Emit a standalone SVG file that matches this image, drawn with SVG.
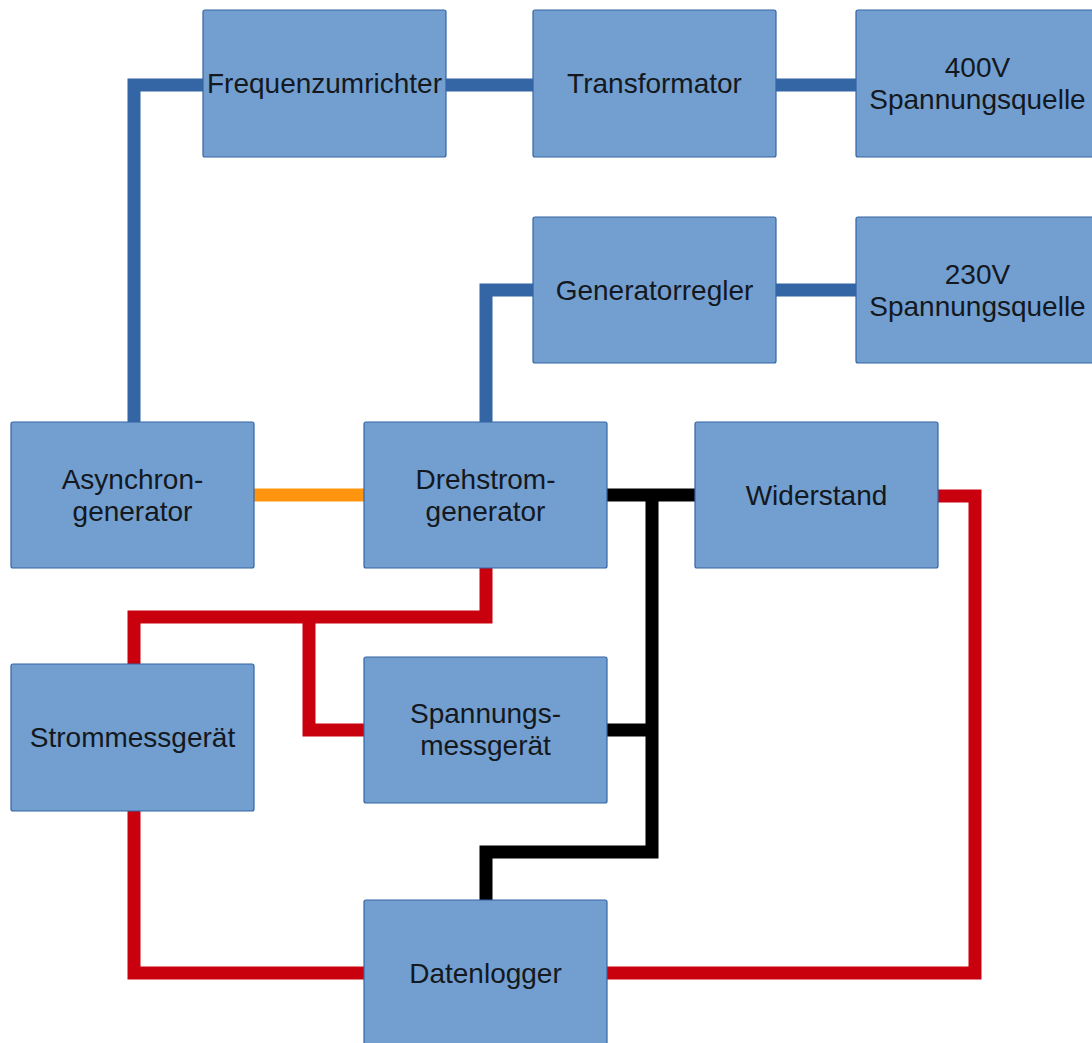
<svg xmlns="http://www.w3.org/2000/svg" width="1092" height="1043" viewBox="0 0 1092 1043">
<style>
.box{fill:#729fcf;stroke:#3465a4;stroke-width:1.2}
.lbl{font-family:"Liberation Sans",Arial,sans-serif;font-size:28px;fill:#141820;text-anchor:middle}
.c{fill:none;stroke-width:13;stroke-linejoin:miter;stroke-linecap:butt}
.blue{stroke:#3465a4}
.orange{stroke:#ff950e}
.red{stroke:#c9000e}
.black{stroke:#000}
</style>
<rect width="1092" height="1043" fill="#fff"/>
<g id="connectors">
<path class="c blue" d="M134 422 V85 H203"/>
<path class="c blue" d="M446 85 H533"/>
<path class="c blue" d="M776 85 H856"/>
<path class="c blue" d="M486 422 V290 H533"/>
<path class="c blue" d="M776 290 H856"/>
<path class="c orange" d="M254 495 H364"/>
<path class="c black" d="M607 495 H695"/>
<path class="c black" d="M652 495 V852 H486 V900"/>
<path class="c black" d="M607 730 H652"/>
<path class="c red" d="M486 568 V617 H134 V664"/>
<path class="c red" d="M309 617 V730 H364"/>
<path class="c red" d="M134 811 V973 H364"/>
<path class="c red" d="M607 973 H975 V496 H938"/>
</g>
<g id="frequenzumrichter"><rect class="box" x="203" y="10" width="243" height="147" rx="2"/><text class="lbl" x="324.5" y="93">Frequenzumrichter</text></g>
<g id="transformator"><rect class="box" x="533" y="10" width="243" height="147" rx="2"/><text class="lbl" x="654.5" y="93">Transformator</text></g>
<g id="spannungsquelle400"><rect class="box" x="856" y="10" width="243" height="147" rx="2"/><text class="lbl" x="977.5" y="77"><tspan x="977.5">400V</tspan><tspan x="977.5" dy="32">Spannungsquelle</tspan></text></g>
<g id="generatorregler"><rect class="box" x="533" y="217" width="243" height="146" rx="2"/><text class="lbl" x="654.5" y="300">Generatorregler</text></g>
<g id="spannungsquelle230"><rect class="box" x="856" y="217" width="243" height="146" rx="2"/><text class="lbl" x="977.5" y="284"><tspan x="977.5">230V</tspan><tspan x="977.5" dy="32">Spannungsquelle</tspan></text></g>
<g id="asynchrongenerator"><rect class="box" x="11" y="422" width="243" height="146" rx="2"/><text class="lbl" x="132.5" y="489"><tspan x="132.5">Asynchron-</tspan><tspan x="132.5" dy="32">generator</tspan></text></g>
<g id="drehstromgenerator"><rect class="box" x="364" y="422" width="243" height="146" rx="2"/><text class="lbl" x="485.5" y="489"><tspan x="485.5">Drehstrom-</tspan><tspan x="485.5" dy="32">generator</tspan></text></g>
<g id="widerstand"><rect class="box" x="695" y="422" width="243" height="146" rx="2"/><text class="lbl" x="816.5" y="505">Widerstand</text></g>
<g id="strommessgeraet"><rect class="box" x="11" y="664" width="243" height="147" rx="2"/><text class="lbl" x="132.5" y="747">Strommessgerät</text></g>
<g id="spannungsmessgeraet"><rect class="box" x="364" y="657" width="243" height="146" rx="2"/><text class="lbl" x="485.5" y="723"><tspan x="485.5">Spannungs-</tspan><tspan x="485.5" dy="32">messgerät</tspan></text></g>
<g id="datenlogger"><rect class="box" x="364" y="900" width="243" height="147" rx="2"/><text class="lbl" x="485.5" y="983">Datenlogger</text></g>
</svg>
